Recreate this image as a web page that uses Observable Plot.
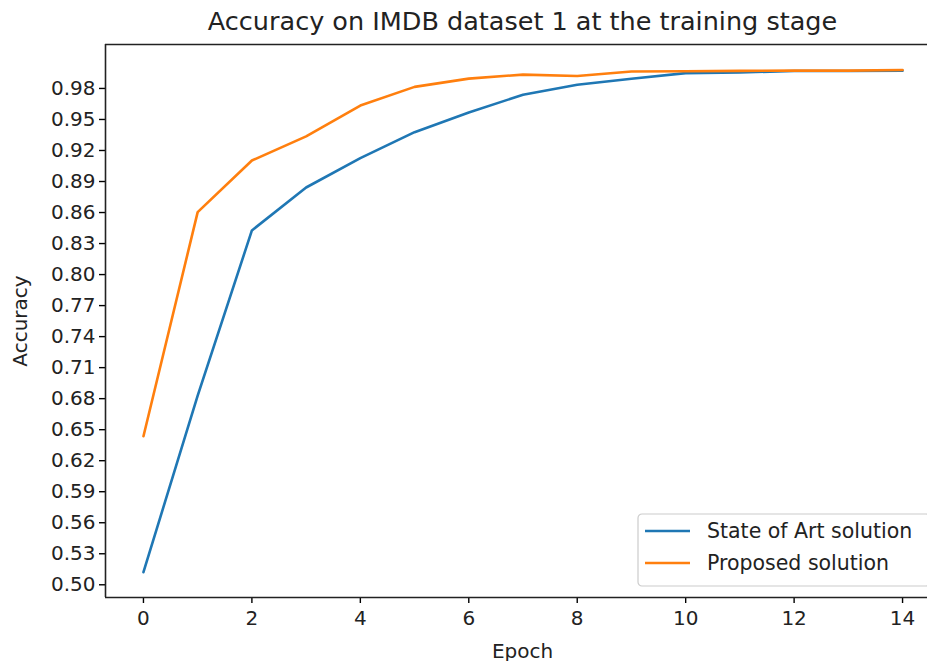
<!DOCTYPE html>
<html>
<head>
<meta charset="utf-8">
<script src="https://cdn.jsdelivr.net/npm/d3@7"></script>
<script src="https://cdn.jsdelivr.net/npm/@observablehq/plot@0.6"></script>
<style>
  html, body { margin: 0; padding: 0; background: #fff; overflow: hidden; }
  #chart { position: relative; width: 927px; height: 661px; }
  svg { font-family: "DejaVu Sans", sans-serif; }
</style>
</head>
<body>
<div id="chart"></div>
<script>
const title = "Accuracy on IMDB dataset 1 at the training stage";
const xLabel = "Epoch";
const yLabel = "Accuracy";
const epochs = [0, 1, 2, 3, 4, 5, 6, 7, 8, 9, 10, 11, 12, 13, 14];
const stateOfArt = [0.5122, 0.683, 0.8427, 0.8842, 0.9126, 0.9377, 0.9568, 0.9739, 0.9836, 0.9894, 0.9948, 0.9955, 0.9968, 0.9969, 0.9971];
const proposed = [0.6437, 0.8604, 0.9103, 0.9336, 0.9635, 0.9815, 0.9895, 0.9934, 0.9920, 0.9964, 0.9966, 0.9970, 0.9972, 0.9972, 0.9979];
const seriesNames = ["State of Art solution", "Proposed solution"];
const seriesColors = ["#1f77b4", "#ff7f0e"];
const xTicks = [0, 2, 4, 6, 8, 10, 12, 14];
const yTicks = [0.50, 0.53, 0.56, 0.59, 0.62, 0.65, 0.68, 0.71, 0.74, 0.77, 0.80, 0.83, 0.86, 0.89, 0.92, 0.95, 0.98];
const xDomain = [-0.7, 14.46];
const yDomain = [0.4877, 1.0225];

const rows = [];
epochs.forEach((e, i) => {
  rows.push({epoch: e, acc: stateOfArt[i], series: seriesNames[0]});
});
epochs.forEach((e, i) => {
  rows.push({epoch: e, acc: proposed[i], series: seriesNames[1]});
});

const plot = Plot.plot({
  width: 927,
  height: 661,
  marginLeft: 105,
  marginRight: 0,
  marginTop: 44,
  marginBottom: 64,
  style: {fontFamily: "DejaVu Sans, sans-serif", background: "#fff", color: "#000"},
  x: {domain: xDomain, ticks: xTicks, label: null},
  y: {domain: yDomain, ticks: yTicks, label: null},
  color: {domain: seriesNames, range: seriesColors},
  marks: [
    Plot.axisX({ticks: xTicks, tickSize: 6, tickPadding: 7, fontSize: 20, label: null, stroke: "#000", strokeWidth: 1.4, strokeOpacity: 1, fill: "#222"}),
    Plot.axisY({ticks: yTicks, tickFormat: d3.format(".2f"), tickSize: 6, tickPadding: 4, fontSize: 20, label: null, stroke: "#000", strokeWidth: 1.4, strokeOpacity: 1, fill: "#222"}),
    Plot.ruleX([xDomain[0]], {stroke: "#222", strokeWidth: 1.6}),
    Plot.ruleY([yDomain[0]], {stroke: "#222", strokeWidth: 1.6}),
    Plot.ruleY([yDomain[1]], {stroke: "#222", strokeWidth: 1.6}),
    Plot.lineY(rows, {x: "epoch", y: "acc", stroke: "series", strokeWidth: 2.6, z: "series"}),
    Plot.text([title], {frameAnchor: "top", textAnchor: "middle", dx: 6, dy: -33, fontSize: 25.5, fill: "#222", text: d => d}),
    Plot.text([yLabel], {frameAnchor: "left", textAnchor: "middle", dx: -85, rotate: -90, fontSize: 20, fill: "#222", text: d => d}),
    Plot.text([xLabel], {frameAnchor: "bottom", textAnchor: "middle", dx: 6, dy: 60, fontSize: 20, fill: "#222", text: d => d})
  ]
});

document.getElementById("chart").appendChild(plot);

// Legend in the lower right corner of the axes (drawn with d3 into the same SVG)
const svg = d3.select(plot);
const frameRight = 927 + 13;   // the axes extend past the window edge
const frameBottom = 661 - 64;
const lg = svg.append("g").attr("transform", `translate(${frameRight - 302},${frameBottom - 83})`);
lg.append("rect").attr("x", 0).attr("y", 0).attr("width", 292).attr("height", 72)
  .attr("rx", 4).attr("fill", "#fff").attr("fill-opacity", 0.8).attr("stroke", "#ccc").attr("stroke-width", 1.2);
seriesNames.forEach((name, i) => {
  const cy = 17 + i * 32;
  lg.append("line").attr("x1", 7).attr("x2", 52).attr("y1", cy).attr("y2", cy)
    .attr("stroke", seriesColors[i]).attr("stroke-width", 2.6);
  lg.append("text").attr("x", 69).attr("y", cy).attr("dy", "0.36em")
    .attr("text-anchor", "start")
    .attr("font-size", 20.5).attr("fill", "#222").attr("font-family", "DejaVu Sans, sans-serif").text(name);
});
</script>
</body>
</html>
